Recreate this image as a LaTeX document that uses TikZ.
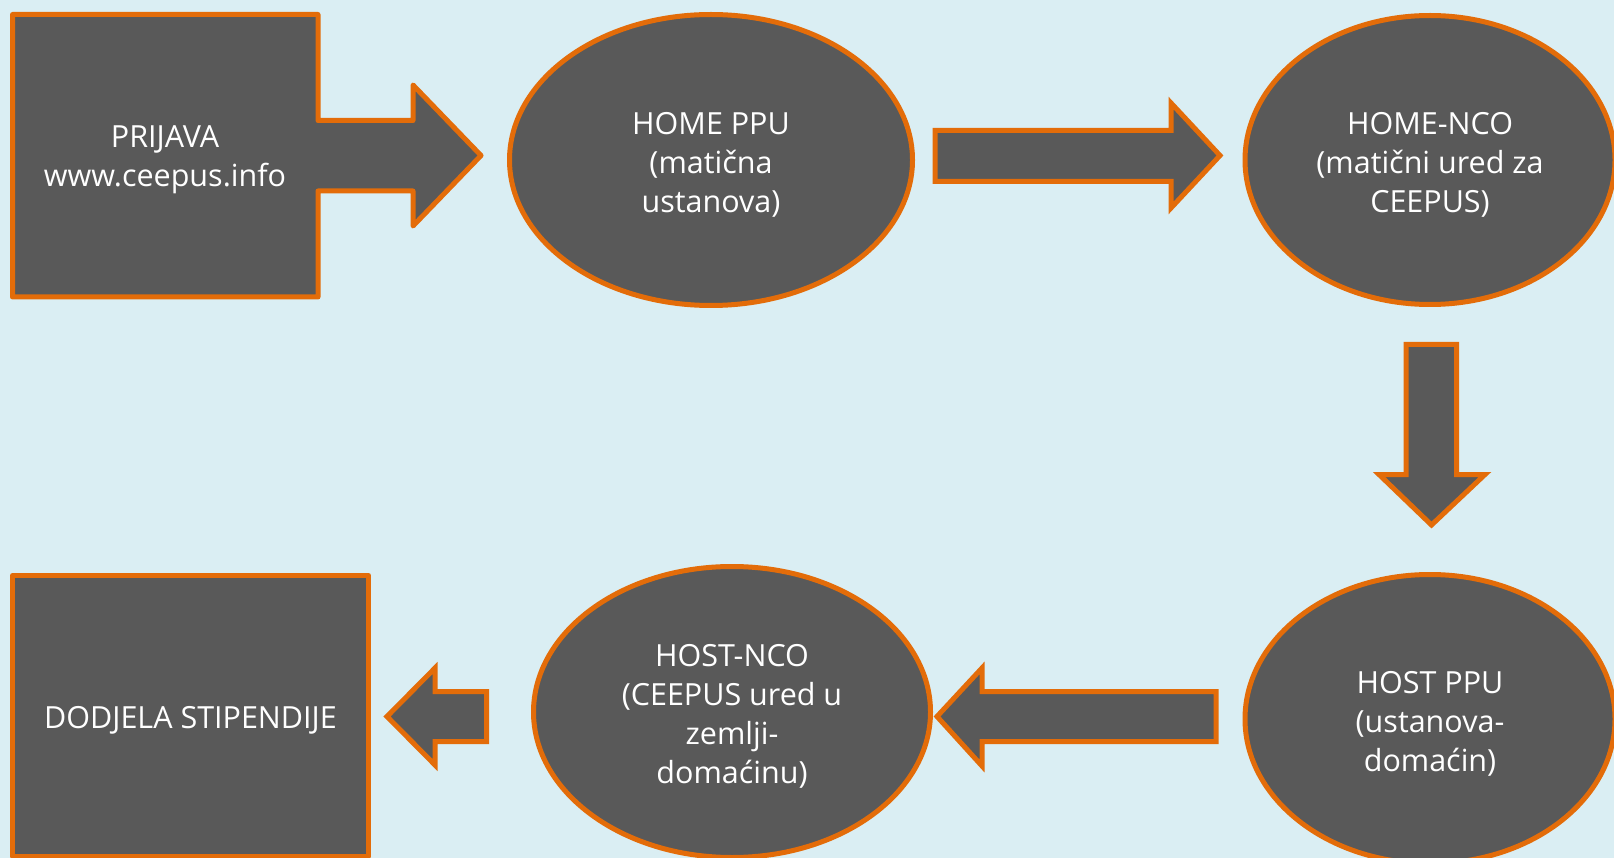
\documentclass[tikz,border=0pt]{standalone}
\usepackage{fontspec}
\setmainfont{Open Sans}
\usetikzlibrary{shapes.geometric}
\definecolor{bg}{HTML}{DAEEF3}
\definecolor{boxgray}{HTML}{595959}
\definecolor{accent}{HTML}{E36C09}
\begin{document}
\begin{tikzpicture}[x=1pt,y=-1pt,
  shp/.style={fill=boxgray, draw=accent, line width=5pt, line join=round},
  blockarrow/.style={fill=boxgray, draw=accent, line width=5pt, line join=miter},
  lbl/.style={text=white, align=center, font=\fontsize{30.5}{39}\selectfont, inner sep=0pt, yshift=-4.5pt},
  oval/.style={shp, ellipse, inner sep=0pt}]
\useasboundingbox (0,0) rectangle (1614,858);
\fill[bg] (0,0) rectangle (1614,858);
\clip (0,0) rectangle (1614,858);
% PRIJAVA callout
\draw[shp] (12.5,14.5) -- (318,14.5) -- (318,120.5) -- (413,120.5) -- (413,85) -- (481,155.5)
  -- (413,226) -- (413,191) -- (318,191) -- (318,297) -- (12.5,297) -- cycle;
\node[lbl] (prijava) at (165,155.5) {PRIJAVA\\www.ceepus.info};
% HOME PPU
\node[oval, minimum width=403pt, minimum height=291pt] (homeppu) at (711,160) {};
\node[lbl] (homeppuText) at (homeppu.center) {HOME PPU\\(matična\\ustanova)};
% arrow to HOME-NCO
\draw[blockarrow] (935,130.5) -- (1171,130.5) -- (1171,103) -- (1220,155.5) -- (1171,208) -- (1171,181.5) -- (935,181.5) -- cycle;
% HOME-NCO
\node[oval, minimum width=370pt, minimum height=289pt] (homenco) at (1430,160) {};
\node[lbl] (homencoText) at (homenco.center) {HOME-NCO\\(matični ured za\\CEEPUS)};
% down arrow
\draw[blockarrow] (1406,344.5) -- (1456.5,344.5) -- (1456.5,474.5) -- (1485,474.5) -- (1431.5,525) -- (1379,474.5) -- (1406,474.5) -- cycle;
% HOST PPU
\node[oval, minimum width=370pt, minimum height=289pt] (hostppu) at (1430,719) {};
\node[lbl] (hostppuText) at (hostppu.center) {HOST PPU\\(ustanova-\\domaćin)};
% arrow to HOST-NCO
\draw[blockarrow] (1216,691.5) -- (982,691.5) -- (982,668) -- (937,716.5) -- (982,766) -- (982,741.5) -- (1216,741.5) -- cycle;
% HOST-NCO
\node[oval, minimum width=397pt, minimum height=291pt] (hostnco) at (732,712) {};
\node[lbl] (hostncoText) at (hostnco.center) {HOST-NCO\\(CEEPUS ured u\\zemlji-\\domaćinu)};
% arrow to DODJELA
\draw[blockarrow] (486.5,691.5) -- (435,691.5) -- (435,668) -- (387,716.5) -- (435,765) -- (435,741.5) -- (486.5,741.5) -- cycle;
% DODJELA STIPENDIJE
\node[shp, rectangle, minimum width=356pt, minimum height=280.5pt, inner sep=0pt] (dodjela) at (190.5,715.75) {};
\node[lbl] (dodjelaText) at (dodjela.center) {DODJELA STIPENDIJE};
\end{tikzpicture}
\end{document}
